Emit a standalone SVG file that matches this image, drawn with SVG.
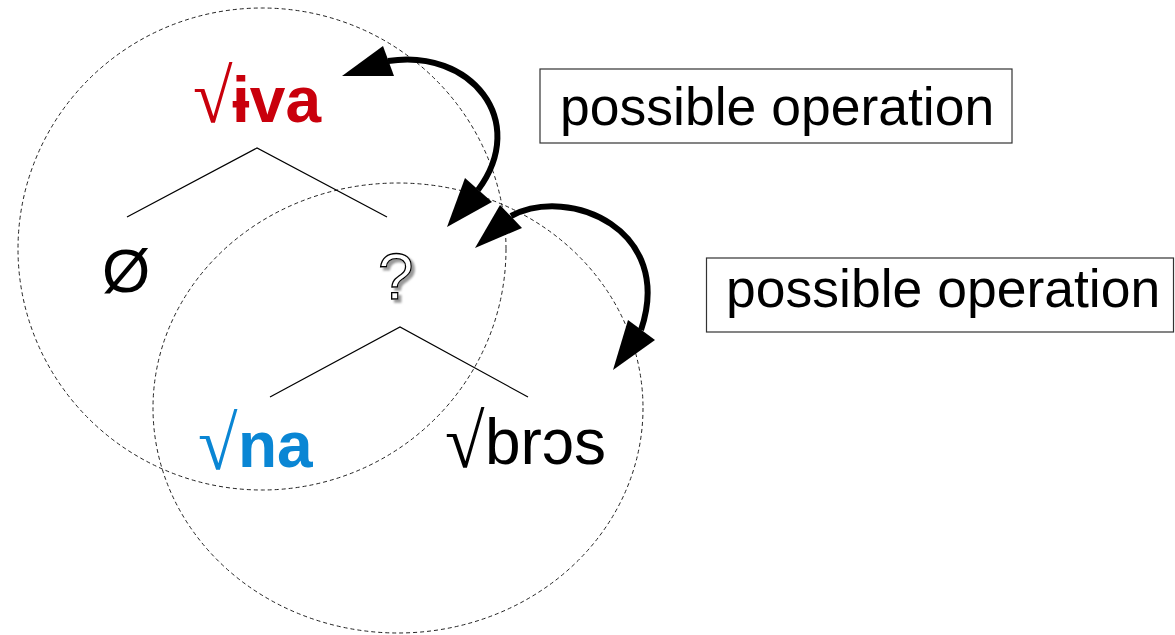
<svg xmlns="http://www.w3.org/2000/svg" width="1175" height="635" viewBox="0 0 1175 635">
  <style>
    .domain { fill: none; stroke: #222; stroke-width: 1; stroke-dasharray: 4 3; }
    .branch { fill: none; stroke: #000; stroke-width: 1.2; }
    .label { font-family: "Liberation Sans", Arial, sans-serif; font-size: 64px; }
    .bold { font-weight: bold; }
    .rad { font-family: "Liberation Serif", "Times New Roman", serif; font-weight: normal; font-size: 60px; }
    .red { fill: #c9000c; }
    .blue { fill: #0a86d4; }
    .ink { fill: #000; }
    .note-box { fill: #fff; stroke: #333; stroke-width: 1.2; }
    .note { font-family: "Liberation Sans", Arial, sans-serif; font-size: 53.5px; fill: #000; }
    .conn { fill: none; stroke: #000; stroke-width: 6; }
    .head { fill: #000; stroke: none; }
    .q { font-family: "Liberation Sans", Arial, sans-serif; font-size: 64px; fill: #fff; stroke: #000; stroke-width: 1.3; }
  </style>
  <defs>
    <filter id="shade" x="-30%" y="-30%" width="160%" height="160%">
      <feGaussianBlur in="SourceAlpha" stdDeviation="1.2" result="b"/>
      <feOffset in="b" dx="3" dy="3" result="o"/>
      <feFlood flood-color="#999"/>
      <feComposite in2="o" operator="in" result="s"/>
      <feMerge>
        <feMergeNode in="s"/>
        <feMergeNode in="SourceGraphic"/>
      </feMerge>
    </filter>
  </defs>

  <rect width="1175" height="635" fill="#fff"/>

  <!-- dashed domains -->
  <g id="domains">
    <ellipse class="domain" cx="262" cy="249" rx="244" ry="241"/>
    <ellipse class="domain" cx="398" cy="408" rx="245" ry="225"/>
  </g>

  <!-- upper tree: √ɨva over Ø and ? -->
  <g id="node-viva">
    <text class="rad red" transform="translate(193,122) scale(1.2,1.27)">√</text>
    <text class="label bold red" x="232" y="122">ɨva</text>
  </g>
  <g id="tree-upper">
    <polyline class="branch" points="127,217 257,148 387,217"/>
  </g>
  <g id="node-null">
    <text class="label ink" x="102" y="292" style="font-size:62px">Ø</text>
  </g>
  <g id="node-question">
    <text class="q" x="378" y="299" filter="url(#shade)">?</text>
  </g>

  <!-- lower tree: ? over √na and √brɔs -->
  <g id="tree-lower">
    <polyline class="branch" points="270,397 400,327 528,397"/>
  </g>
  <g id="node-na">
    <text class="rad blue" transform="translate(198,469) scale(1.2,1.27)">√</text>
    <text class="label bold blue" x="238" y="467">na</text>
  </g>
  <g id="node-bros">
    <text class="rad ink" transform="translate(445,467) scale(1.2,1.27)">√</text>
    <text class="label ink" x="485" y="464">brɔs</text>
  </g>

  <!-- annotation boxes -->
  <g id="note-1">
    <rect class="note-box" x="540" y="69" width="472" height="74"/>
    <text class="note" x="560" y="125">possible operation</text>
  </g>
  <g id="note-2">
    <rect class="note-box" x="706.5" y="258" width="467" height="74"/>
    <text class="note" x="726" y="307">possible operation</text>
  </g>

  <!-- double-headed curved arrows -->
  <g id="connectors">
    <path class="conn" d="M388,61 C470,48 530,120 478,190"/>
    <polygon class="head" points="342,76 383,46 394,76"/>
    <polygon class="head" points="447,227 465,178 492,202"/>

    <path class="conn" d="M511,216 C570,185 675,230 641,330"/>
    <polygon class="head" points="475,248 500,205 522,228"/>
    <polygon class="head" points="613,370 628,320 655,340"/>
  </g>
</svg>
